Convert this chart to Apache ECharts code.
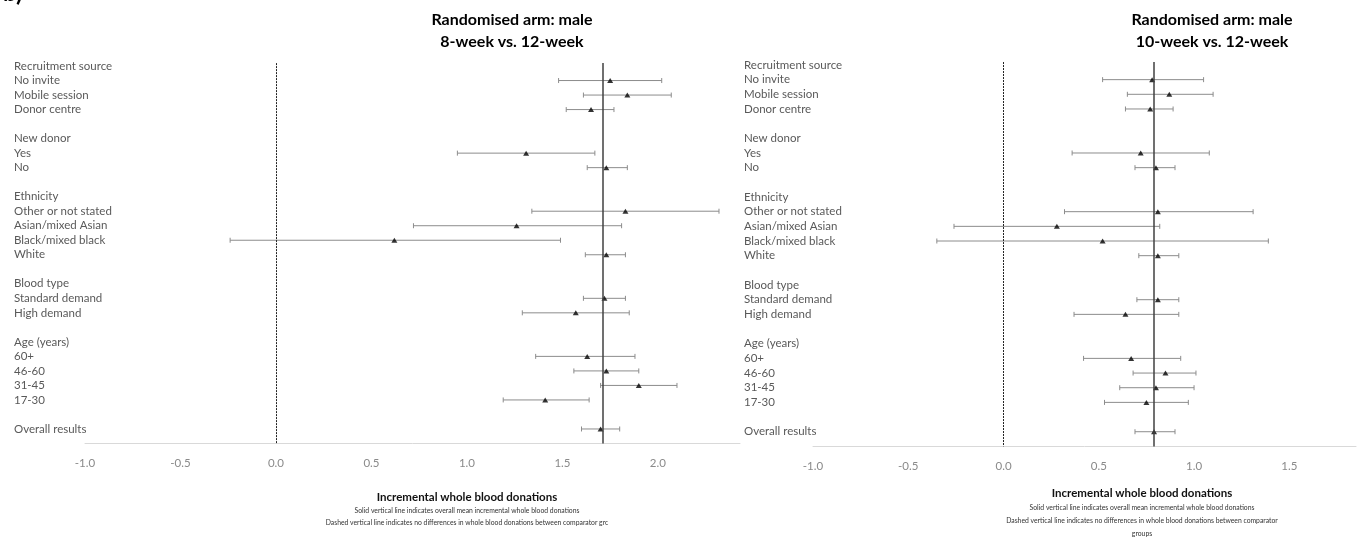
<!DOCTYPE html>
<html>
<head>
<meta charset="utf-8">
<script src="https://cdn.jsdelivr.net/npm/echarts@6/dist/echarts.min.js"></script>
<style>
  html, body { margin: 0; padding: 0; background: #fff; }
  #main { width: 1362px; height: 538px; }
</style>
</head>
<body>
<div id="main"></div>
<script>
// row labels, top to bottom (blank rows are spacers)
const rowLabels = ['Recruitment source', 'No invite', 'Mobile session', 'Donor centre', '',
  'New donor', 'Yes', 'No', '',
  'Ethnicity', 'Other or not stated', 'Asian/mixed Asian', 'Black/mixed black', 'White', '',
  'Blood type', 'Standard demand', 'High demand', '',
  'Age (years)', '60+', '46-60', '31-45', '17-30', '',
  'Overall results']

// 8-week vs 12-week
const est8 = [null, 1.75, 1.84, 1.65, null, null, 1.31, 1.73, null, null, 1.83, 1.26, 0.62, 1.73, null, null, 1.72, 1.57, null, null, 1.63, 1.73, 1.90, 1.41, null, 1.70]
const lo8 = [null, 1.48, 1.61, 1.52, null, null, 0.95, 1.63, null, null, 1.34, 0.72, -0.24, 1.62, null, null, 1.61, 1.29, null, null, 1.36, 1.56, 1.70, 1.19, null, 1.60]
const hi8 = [null, 2.02, 2.07, 1.77, null, null, 1.67, 1.84, null, null, 2.32, 1.81, 1.49, 1.83, null, null, 1.83, 1.85, null, null, 1.88, 1.90, 2.10, 1.64, null, 1.80]
const mean8 = 1.71

// 10-week vs 12-week
const est10 = [null, 0.78, 0.87, 0.77, null, null, 0.72, 0.80, null, null, 0.81, 0.28, 0.52, 0.81, null, null, 0.81, 0.64, null, null, 0.67, 0.85, 0.80, 0.75, null, 0.79]
const lo10 = [null, 0.52, 0.65, 0.64, null, null, 0.36, 0.69, null, null, 0.32, -0.26, -0.35, 0.71, null, null, 0.70, 0.37, null, null, 0.42, 0.68, 0.61, 0.53, null, 0.69]
const hi10 = [null, 1.05, 1.10, 0.89, null, null, 1.08, 0.90, null, null, 1.31, 0.82, 1.39, 0.92, null, null, 0.92, 0.92, null, null, 0.93, 1.01, 1.00, 0.97, null, 0.90]
const mean10 = 0.79

const xTicks = { min: -1, interval: 0.5 }
const FONT = 'Lato'

var chart = echarts.init(document.getElementById('main'))

function ciData(lo, hi) {
  let out = []
  lo.forEach((v, i) => {
    if (v !== null) out.push([v, i + 1, hi[i]])
  })
  return out
}
function ptData(est) {
  let out = []
  est.forEach((v, i) => {
    if (v !== null) out.push([v, i + 1])
  })
  return out
}

// horizontal error bar with small caps
function renderBar(params, api) {
  let y = api.value(1)
  let a = api.coord([api.value(0), y])
  let b = api.coord([api.value(2), y])
  let h = 2.5
  let st = { stroke: '#8c8c8c', lineWidth: 1 }
  return {
    type: 'group',
    children: [
      { type: 'line', shape: { x1: a[0], y1: a[1], x2: b[0], y2: b[1] }, style: st },
      { type: 'line', shape: { x1: a[0], y1: a[1] - h, x2: a[0], y2: a[1] + h }, style: st },
      { type: 'line', shape: { x1: b[0], y1: b[1] - h, x2: b[0], y2: b[1] + h }, style: st }
    ]
  }
}

function xAxisOf(idx, max) {
  return {
    type: 'value', gridIndex: idx, min: xTicks.min, max: max, interval: xTicks.interval,
    axisLine: { show: true, onZero: false, lineStyle: { color: '#d9d9d9', width: 1 } },
    axisTick: { show: false },
    splitLine: { show: false },
    axisLabel: {
      color: '#8a8a8a', fontFamily: FONT, fontSize: 11.5, margin: 14, showMaxLabel: false,
      formatter: v => Math.abs(v * 2 - Math.round(v * 2)) < 1e-6 ? v.toFixed(1) : ''
    }
  }
}
function yAxisOf(idx, margin) {
  return {
    type: 'value', gridIndex: idx, min: 0, max: 27, interval: 1, inverse: true,
    axisLine: { show: false }, axisTick: { show: false }, splitLine: { show: false },
    axisLabel: {
      color: '#595959', fontFamily: FONT, fontSize: 11.5, align: 'left', margin: margin,
      formatter: v => rowLabels[v - 1] || ''
    }
  }
}

function vline(x, dashed) {
  return {
    silent: true, symbol: 'none', label: { show: false },
    lineStyle: dashed ? { color: '#222', width: 1, type: [2, 1] } : { color: '#404040', width: 1.5, type: 'solid' },
    data: [[{ coord: [x, 0.8] }, { coord: [x, 27] }]]
  }
}

function panelSeries(idx, lo, hi, est, mean) {
  return [
    {
      type: 'custom', xAxisIndex: idx, yAxisIndex: idx, renderItem: renderBar,
      encode: { x: [0, 2], y: 1 }, data: ciData(lo, hi), z: 2
    },
    {
      type: 'line', xAxisIndex: idx, yAxisIndex: idx, data: [], markLine: vline(0, true)
    },
    {
      type: 'line', xAxisIndex: idx, yAxisIndex: idx, data: [], markLine: vline(mean, false), z: 3
    },
    {
      type: 'scatter', xAxisIndex: idx, yAxisIndex: idx, symbol: 'triangle', symbolSize: [6, 5],
      itemStyle: { color: '#000' }, data: ptData(est), z: 4
    }
  ]
}

function txt(x, y, s, size, bold, color) {
  return {
    type: 'text', x: x, y: y,
    style: {
      text: s, x: 0, y: 0, align: 'center', verticalAlign: 'middle',
      font: (bold ? 'bold ' : '') + size + 'px ' + FONT, fill: color || '#000'
    }
  }
}

var option = {
  animation: false,
  backgroundColor: '#fff',
  grid: [
    { left: 85, width: 655, top: 51.5, height: 392 },
    { left: 813, width: 543, top: 50.3, height: 396.1 }
  ],
  xAxis: [xAxisOf(0, 2.43), xAxisOf(1, 1.85)],
  yAxis: [yAxisOf(0, 71), yAxisOf(1, 69)],
  series: [].concat(panelSeries(0, lo8, hi8, est8, mean8), panelSeries(1, lo10, hi10, est10, mean10)),
  graphic: [
    { type: 'text', left: 3, top: -19, style: { text: 'b)', font: 'bold 24px ' + FONT, fill: '#000' } },
    txt(512, 20, 'Randomised arm: male', 16, true),
    txt(512, 42, '8-week vs. 12-week', 16, true),
    txt(1212, 20, 'Randomised arm: male', 16, true),
    txt(1212, 42, '10-week vs. 12-week', 16, true),
    txt(467, 497, 'Incremental whole blood donations', 11.5, true, '#111'),
    txt(467, 511, 'Solid vertical line indicates overall mean incremental whole blood donations', 6.8, false, '#333'),
    txt(467, 523, 'Dashed vertical line indicates no differences in whole blood donations between comparator grc', 6.8, false, '#333'),
    txt(1142, 493, 'Incremental whole blood donations', 11.5, true, '#111'),
    txt(1142, 508, 'Solid vertical line indicates overall mean incremental whole blood donations', 6.8, false, '#333'),
    txt(1142, 521, 'Dashed vertical line indicates no differences in whole blood donations between comparator', 6.8, false, '#333'),
    txt(1142, 534, 'groups', 6.8, false, '#333')
  ]
}
chart.setOption(option)
</script>
</body>
</html>
